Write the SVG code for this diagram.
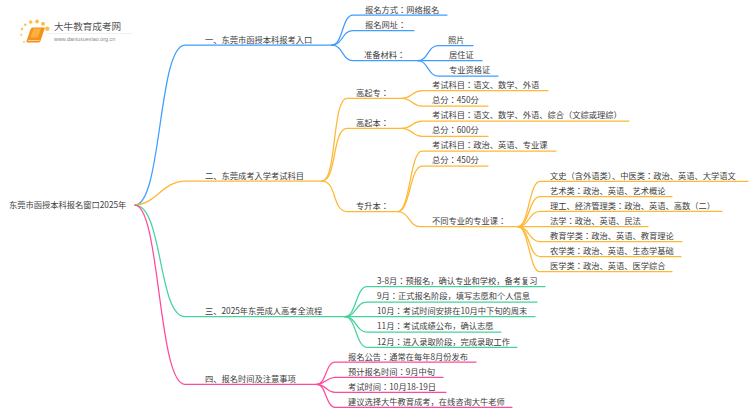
<svg xmlns="http://www.w3.org/2000/svg" width="750" height="410" viewBox="0 0 750 410">
<style>
text{font-family:"Noto Sans CJK JP","Noto Sans CJK SC","Liberation Sans",sans-serif;font-size:8.25px;fill:#404040}
.c{fill:none;stroke-width:1.25;stroke-linecap:round}
.b{stroke:#3f9dff}.o{stroke:#ffb833}.g{stroke:#45d39c}.p{stroke:#ff4a9b}
.t{font-size:9.6px;fill:#555}.u{font-size:5.4px;fill:#888}
</style>
<rect width="750" height="410" fill="#fff"/>
<g id="logo">
<g fill="#fbc04a"><circle cx="22" cy="29" r="1.2"/><circle cx="25.300" cy="24.700" r="1.3"/><circle cx="30.700" cy="22" r="1.8"/><circle cx="37" cy="21.500" r="2"/><circle cx="43" cy="23.700" r="2"/><circle cx="47.300" cy="28.700" r="2.200"/><circle cx="21.300" cy="34.700" r="1"/><circle cx="24" cy="42" r="0.9"/></g>
<path d="M33 27.500H45L40.500 41Q40 42.500 38 42.500H27.500Q26 42.500 26.500 41L30.500 29.500Q31 27.500 33 27.500Z" fill="#f5921b"/>
<path d="M33.500 28.500H41L38 37.500H30.500Z" fill="#fbb040"/>
<path d="M28 40.500H39.500" stroke="#fde2b5" stroke-width="0.8" fill="none"/>
<rect x="46" y="33" width="87" height="0.6" fill="#e8e8e8"/>
<text class="t" x="54" y="30">大牛教育成考网</text>
<text class="u" x="54" y="41" style="font-family:'Liberation Sans',sans-serif">www.daniuxuexiao.org.cn</text>
</g>
<g id="connectors">
<path class="c b" d="M135 205C162 205 158 45 185 45H332"/>
<path class="c o" d="M135 205C155 205 163 181 185 181H322"/>
<path class="c g" d="M135 205C163 205 158 316.700 185 316.700H345"/>
<path class="c p" d="M135 205C160 205 158 384.300 185 384.300H317"/>
<path class="c b" d="M332 45C343 45 342 15 353 15H447"/>
<path class="c b" d="M332 45C343 45 342 30.500 353 30.500H414"/>
<path class="c b" d="M332 45C343 45 342 60.700 353 60.700H418"/>
<path class="c b" d="M418 60.700C428 60.700 428 45.500 438 45.500H473"/>
<path class="c b" d="M418 60.700H482"/>
<path class="c b" d="M418 60.700C428 60.700 428 76 438 76H498"/>
<path class="c o" d="M322 181C337 181 332 98.300 347 98.300H402"/>
<path class="c o" d="M322 181C337 181 332 128.300 347 128.300H402"/>
<path class="c o" d="M322 181C337 181 332 211.500 347 211.500H398"/>
<path class="c o" d="M402 98.300C412 98.300 412 90.700 422 90.700H548"/>
<path class="c o" d="M402 98.300C412 98.300 412 106 422 106H488"/>
<path class="c o" d="M402 128.300C412 128.300 412 121 422 121H629"/>
<path class="c o" d="M402 128.300C412 128.300 412 136.300 422 136.300H488"/>
<path class="c o" d="M398 211.500C410 211.500 410 151 422 151H556"/>
<path class="c o" d="M398 211.500C410 211.500 410 166 422 166H488"/>
<path class="c o" d="M398 211.500C409 211.500 409 226.700 420 226.700H518"/>
<path class="c o" d="M518 226.700C529 226.700 529 181.300 540 181.300H748"/>
<path class="c o" d="M518 226.700C529 226.700 529 196.700 540 196.700H672"/>
<path class="c o" d="M518 226.700C529 226.700 529 211.300 540 211.300H722"/>
<path class="c o" d="M518 226.700H648"/>
<path class="c o" d="M518 226.700C529 226.700 529 241.500 540 241.500H682"/>
<path class="c o" d="M518 226.700C529 226.700 529 256.700 540 256.700H681"/>
<path class="c o" d="M518 226.700C529 226.700 529 271.700 540 271.700H672"/>
<path class="c g" d="M345 316.700C356 316.700 356 286.700 367 286.700H545"/>
<path class="c g" d="M345 316.700C356 316.700 356 302 367 302H537"/>
<path class="c g" d="M345 316.700H535"/>
<path class="c g" d="M345 316.700C356 316.700 356 332 367 332H501"/>
<path class="c g" d="M345 316.700C356 316.700 356 347.300 367 347.300H517"/>
<path class="c p" d="M317 384.300C326 384.300 326 362 335 362H476"/>
<path class="c p" d="M317 384.300C326 384.300 326 377.300 335 377.300H443"/>
<path class="c p" d="M317 384.300C326 384.300 326 392.300 335 392.300H446"/>
<path class="c p" d="M317 384.300C326 384.300 326 407.300 335 407.300H512"/>
</g>
<g id="root"><text x="9" y="208">东莞市函授本科报名窗口2025年</text></g>
<g id="n1"><text x="205" y="42.700">一、东莞市函授本科报考入口</text></g>
<g id="n1-1"><text x="365" y="12.500">报名方式：网络报名</text></g>
<g id="n1-2"><text x="365" y="27.500">报名网址：</text></g>
<g id="n1-3"><text x="364" y="58">准备材料：</text></g>
<g id="n1-3-1"><text x="448" y="43">照片</text></g>
<g id="n1-3-2"><text x="449" y="58">居住证</text></g>
<g id="n1-3-3"><text x="449" y="73">专业资格证</text></g>
<g id="n2"><text x="205" y="178.500">二、东莞成考入学考试科目</text></g>
<g id="n2-1"><text x="356" y="95.500">高起专：</text></g>
<g id="n2-1-1"><text x="432" y="88">考试科目：语文、数学、外语</text></g>
<g id="n2-1-2"><text x="432" y="103">总分：450分</text></g>
<g id="n2-2"><text x="356" y="125.500">高起本：</text></g>
<g id="n2-2-1"><text x="432" y="118">考试科目：语文、数学、外语、综合（文综或理综）</text></g>
<g id="n2-2-2"><text x="432" y="133">总分：600分</text></g>
<g id="n2-3"><text x="356" y="208.500">专升本：</text></g>
<g id="n2-3-1"><text x="432" y="148">考试科目：政治、英语、专业课</text></g>
<g id="n2-3-2"><text x="432" y="163">总分：450分</text></g>
<g id="n2-3-3"><text x="432" y="224">不同专业的专业课：</text></g>
<g id="n2-3-3-1"><text x="550" y="178.500">文史（含外语类）、中医类：政治、英语、大学语文</text></g>
<g id="n2-3-3-2"><text x="550" y="193.500">艺术类：政治、英语、艺术概论</text></g>
<g id="n2-3-3-3"><text x="550" y="208.500">理工、经济管理类：政治、英语、高数（二）</text></g>
<g id="n2-3-3-4"><text x="550" y="224">法学：政治、英语、民法</text></g>
<g id="n2-3-3-5"><text x="550" y="239">教育学类：政治、英语、教育理论</text></g>
<g id="n2-3-3-6"><text x="550" y="254">农学类：政治、英语、生态学基础</text></g>
<g id="n2-3-3-7"><text x="550" y="269">医学类：政治、英语、医学综合</text></g>
<g id="n3"><text x="205" y="314">三、2025年东莞成人高考全流程</text></g>
<g id="n3-1"><text x="377" y="284">3-8月：预报名，确认专业和学校，备考复习</text></g>
<g id="n3-2"><text x="377" y="299">9月：正式报名阶段，填写志愿和个人信息</text></g>
<g id="n3-3"><text x="377" y="314">10月：考试时间安排在10月中下旬的周末</text></g>
<g id="n3-4"><text x="377" y="329">11月：考试成绩公布，确认志愿</text></g>
<g id="n3-5"><text x="377" y="344.500">12月：进入录取阶段，完成录取工作</text></g>
<g id="n4"><text x="205" y="381.500">四、报名时间及注意事项</text></g>
<g id="n4-1"><text x="348" y="359.500">报名公告：通常在每年8月份发布</text></g>
<g id="n4-2"><text x="348" y="374.500">预计报名时间：9月中旬</text></g>
<g id="n4-3"><text x="348" y="389.500">考试时间：10月18-19日</text></g>
<g id="n4-4"><text x="348" y="404.500">建议选择大牛教育成考，在线咨询大牛老师</text></g>
</svg>
